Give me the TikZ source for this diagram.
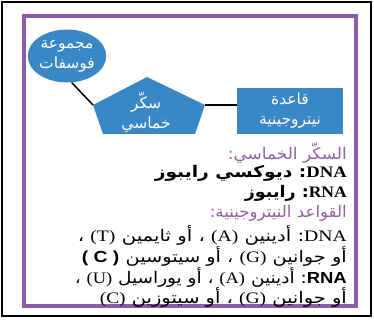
\documentclass[tikz,border=0pt]{standalone}
\usepackage{graphicx}
\usepackage{fontspec}
\setmainfont{Liberation Serif}
\newfontfamily\arabicfont[Script=Arabic]{DejaVu Sans}
\newfontfamily\latsans{Liberation Sans}
\TeXXeTstate=1
\usetikzlibrary{shapes.geometric}
\definecolor{nodeblue}{RGB}{58,135,198}
\definecolor{framepurple}{RGB}{142,92,168}
\definecolor{headpurple}{RGB}{150,95,165}
\newcommand\artxt[1]{{\arabicfont\beginR #1\endR}}
\newcommand\lattxt[1]{\beginL{\rmfamily #1}\endL{}}
\newcommand\latbold[1]{\beginL{\latsans\bfseries #1}\endL{}}
\newcommand\fitline[2]{\resizebox{#1pt}{\height}{#2}}
\tikzset{
  blueshape/.style={fill=nodeblue, draw=none, text=white, align=center, font=\fontsize{15.5}{20}\selectfont, inner sep=0pt},
  conn/.style={draw=black, line width=1.5pt},
  txtline/.style={anchor=east, inner sep=0pt, font=\fontsize{16}{20}\selectfont},
}
\begin{document}
\begin{tikzpicture}[x=1pt, y=-1pt]
\useasboundingbox (0,0) rectangle (374,320);
\fill[white] (0,0) rectangle (374,320);
\draw[black, line width=2pt] (2,2) rectangle (371,316);
\draw[framepurple, line width=4pt] (24,16) rectangle (356,306);

% shapes
\node[blueshape, ellipse, minimum width=72, minimum height=53] (ph) at (67,56) {\artxt{مجموعة}\\\artxt{فوسفات}};
\coordinate (pl) at (93,105);
\coordinate (pr) at (205,105);
\coordinate (pt) at (147,77);
\coordinate (pbr) at (195,134);
\coordinate (pbl) at (103,134);
\fill[nodeblue] (pt) -- (pr) -- (pbr) -- (pbl) -- (pl) -- cycle;
\node[blueshape, fill=none] (sug) at (146,112) {\artxt{سكّر}\\\artxt{خماسي}};
\node[blueshape, rectangle, minimum width=106, minimum height=46] (nb) at (290,111) {\artxt{قاعدة}\\\artxt{نيتروجينية}};

\draw[conn] (ph.-80) -- (pl);
\draw[conn] (pr) -- (pr -| nb.west);

% text lines
\node[txtline, text=headpurple] (l1) at (347,153) {\fitline{119}{\artxt{السكّر الخماسي:}}};
\node[txtline] (l2) at (347,173) {\fitline{192}{\bfseries\artxt{\lattxt{DNA}: ديوكسي رايبوز}}};
\node[txtline] (l3) at (347,193) {\fitline{102}{\bfseries\artxt{\lattxt{RNA}: رايبوز}}};
\node[txtline, text=headpurple] (l4) at (347,213) {\fitline{137}{\artxt{القواعد النيتروجينية:}}};
\node[txtline] (l5) at (347,235) {\fitline{269}{\artxt{\lattxt{DNA}: أدينين \lattxt{(A)} ، أو ثايمين \lattxt{(T)} ،}}};
\node[txtline] (l6) at (347,256) {\fitline{265}{\artxt{أو جوانين \lattxt{(G)} ، أو سيتوسين \latbold{( C )}}}};
\node[txtline] (l7) at (347,277) {\fitline{272}{\artxt{\latbold{RNA}: أدينين \lattxt{(A)} ، أو يوراسيل \lattxt{(U)} ،}}};
\node[txtline] (l8) at (347,297) {\fitline{247}{\artxt{أو جوانين \lattxt{(G)} ، أو سيتوزين \lattxt{(C)}}}};
\end{tikzpicture}
\end{document}
